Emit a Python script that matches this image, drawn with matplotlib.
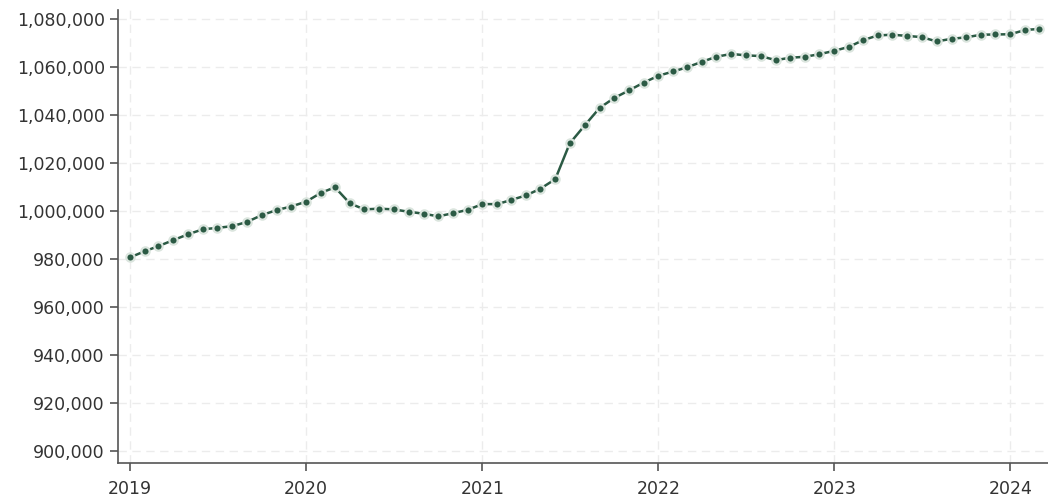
import pandas as pd
import matplotlib.pyplot as plt
import matplotlib.dates as mdates
from matplotlib.ticker import FuncFormatter, MultipleLocator

# Monthly values, Jan 2019 - Mar 2024
months = pd.date_range("2019-01-01", "2024-03-01", freq="MS")

values_2019 = [980700, 983300, 985400, 987900, 990300, 992400,
               993000, 993700, 995500, 998300, 1000400, 1001900]
values_2020 = [1003900, 1007600, 1009900, 1003200, 1000700, 1001000,
               1000700, 999700, 998900, 997800, 999100, 1000500]
values_2021 = [1002900, 1002900, 1004600, 1006500, 1009300, 1013300,
               1028200, 1035700, 1043000, 1047100, 1050300, 1053500]
values_2022 = [1056400, 1058200, 1059900, 1062200, 1064300, 1065500,
               1064900, 1064600, 1062900, 1063900, 1064300, 1065400]
values_2023 = [1066800, 1068500, 1071200, 1073200, 1073500, 1073000,
               1072500, 1070700, 1071800, 1072400, 1073500, 1073600]
values_2024 = [1073700, 1075500, 1075900]

values = values_2019 + values_2020 + values_2021 + values_2022 + values_2023 + values_2024

plt.rcParams['font.family'] = ['DejaVu Sans']

fig = plt.figure(figsize=(10.48, 4.99), dpi=100)
ax = fig.add_axes([118 / 1048, 36 / 499, 1 - 118 / 1048, (463 - 10) / 499])

line_color = "#2b5a44"
ax.plot(months, values, color=line_color, linewidth=1.8, marker="o", markersize=6,
        markerfacecolor=line_color, markeredgecolor="#dbe5de", markeredgewidth=1.6, zorder=3)

ax.set_ylim(895000, 1083800)
ax.yaxis.set_major_locator(MultipleLocator(20000))
ax.yaxis.set_major_formatter(FuncFormatter(lambda v, p: f"{int(v):,}"))

ax.set_xlim(pd.Timestamp("2018-12-07"), pd.Timestamp("2024-03-19"))
ax.xaxis.set_major_locator(mdates.YearLocator())
ax.xaxis.set_major_formatter(mdates.DateFormatter("%Y"))

ax.grid(True, color="#ececec", linestyle=(0, (6, 4)), linewidth=1)
ax.set_axisbelow(True)

for s in ["top", "right"]:
    ax.spines[s].set_visible(False)
for s in ["left", "bottom"]:
    ax.spines[s].set_color("#555555")
    ax.spines[s].set_linewidth(1.2)

ax.tick_params(axis="both", colors="#555555", labelcolor="#333333", labelsize=12.5, length=6, width=1.2)
ax.tick_params(axis="x", pad=6)

fig.savefig("out.png", dpi=100)
